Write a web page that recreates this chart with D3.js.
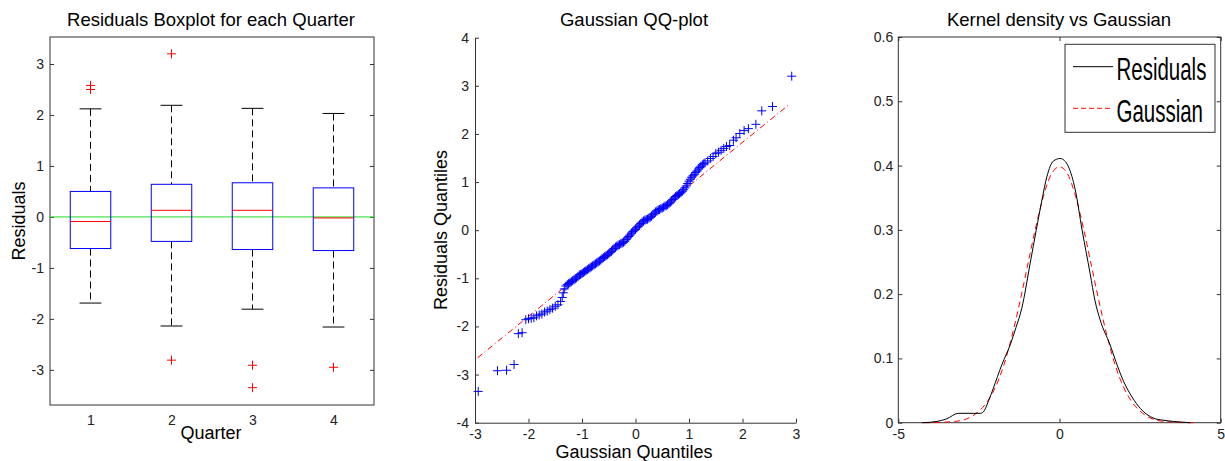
<!DOCTYPE html>
<html lang="en">
    <head>
        <meta charset="utf-8">
        <title>Residual diagnostics</title>
        <script src="https://d3js.org/d3.v7.min.js"></script>
        <style type="text/css">
            body { margin: 0; background: #fff; }
            text { font-family: "Liberation Sans", Arial, sans-serif; fill: #000; }
            .tick text { font-size: 14px; fill: #222; }
            .domain { stroke: #333; }
            .tick line { stroke: #333; }
        </style>
    </head>
    <body>
        <script>
            // ---- data ----
            var quarters = [1, 2, 3, 4];
            var boxQ1 = [-0.62, -0.48, -0.64, -0.66];
            var boxMedian = [-0.09, 0.13, 0.13, -0.02];
            var boxQ3 = [0.50, 0.64, 0.67, 0.57];
            var whiskerLow = [-1.69, -2.14, -1.81, -2.16];
            var whiskerHigh = [2.12, 2.19, 2.13, 2.03];
            var outlierQuarter = [1, 1, 2, 2, 3, 3, 4];
            var outlierValue = [2.50, 2.58, 3.20, -2.81, -2.91, -3.35, -2.95];

            // QQ points: theoretical (Gaussian) quantile, residual quantile
            var qqX = [-2.94, -2.58, -2.41, -2.27, -2.19, -2.12, -2.05, -2.00, -1.95, -1.90, -1.85, -1.80,
                -1.75, -1.70, -1.65, -1.60, -1.55, -1.50, -1.45, -1.40, -1.37, -1.35, -1.33,
                -1.300, -1.275, -1.250, -1.225, -1.200, -1.175, -1.150, -1.125, -1.100, -1.075, -1.050, -1.025,
                -1.000, -0.975, -0.950, -0.925, -0.900, -0.875, -0.850, -0.825, -0.800, -0.775, -0.750, -0.725,
                -0.700, -0.675, -0.650, -0.625, -0.600, -0.575, -0.550, -0.525, -0.500, -0.475, -0.450, -0.425,
                -0.400, -0.375, -0.350, -0.325, -0.300, -0.275, -0.250, -0.225, -0.200, -0.175, -0.150, -0.125,
                -0.100, -0.075, -0.050, -0.025, 0.000, 0.025, 0.050, 0.075, 0.100, 0.125, 0.150, 0.175,
                0.200, 0.225, 0.250, 0.275, 0.300, 0.325, 0.350, 0.375, 0.400, 0.425, 0.450, 0.475,
                0.500, 0.525, 0.550, 0.575, 0.600, 0.625, 0.650, 0.675, 0.700, 0.725, 0.750, 0.775,
                0.800, 0.825, 0.850, 0.875, 0.900, 0.925, 0.950, 0.975, 1.000, 1.025, 1.050, 1.075,
                1.100, 1.125, 1.150, 1.175, 1.200, 1.225, 1.250, 1.275, 1.300,
                1.35, 1.40, 1.45, 1.50, 1.55, 1.60, 1.65, 1.70, 1.76, 1.83, 1.88, 1.95, 2.03, 2.11,
                2.25, 2.36, 2.56, 2.92];
            var qqY = [-3.35, -2.92, -2.91, -2.79, -2.15, -2.13, -1.86, -1.84, -1.83, -1.82, -1.78, -1.76,
                -1.74, -1.70, -1.68, -1.65, -1.62, -1.58, -1.55, -1.48, -1.40, -1.30, -1.22,
                -1.16, -1.13, -1.11, -1.09, -1.07, -1.05, -1.03, -1.01, -0.99, -0.96, -0.93, -0.92,
                -0.90, -0.88, -0.86, -0.84, -0.82, -0.80, -0.78, -0.76, -0.74, -0.72, -0.70, -0.68,
                -0.66, -0.64, -0.62, -0.59, -0.57, -0.55, -0.53, -0.51, -0.49, -0.46, -0.44, -0.41,
                -0.38, -0.35, -0.33, -0.31, -0.30, -0.28, -0.27, -0.25, -0.23, -0.19, -0.16, -0.13,
                -0.10, -0.06, -0.03, 0.00, 0.02, 0.05, 0.08, 0.11, 0.14, 0.17, 0.19, 0.21,
                0.22, 0.23, 0.25, 0.27, 0.29, 0.32, 0.35, 0.38, 0.40, 0.42, 0.43, 0.45,
                0.46, 0.48, 0.50, 0.51, 0.53, 0.55, 0.58, 0.61, 0.64, 0.67, 0.70, 0.72,
                0.74, 0.76, 0.78, 0.81, 0.84, 0.88, 0.92, 0.97, 1.02, 1.06, 1.10, 1.13,
                1.16, 1.20, 1.23, 1.27, 1.30, 1.33, 1.36, 1.38, 1.40,
                1.44, 1.49, 1.53, 1.59, 1.62, 1.66, 1.70, 1.74, 1.76, 1.87, 1.92, 2.01, 2.07, 2.11,
                2.20, 2.48, 2.57, 3.20];
            var qqLineX = [-2.95, 2.89];
            var qqLineY = [-2.65, 2.63];

            var kdeX = [-4.27, -3.80, -3.50, -3.14, -2.46, -2.36, -2.20, -2.05, -1.79, -1.53, -1.35, -1.17,
                -0.91, -0.72, -0.55, -0.39, -0.19, 0.02, 0.15, 0.28, 0.49, 0.70, 0.95, 1.10, 1.26, 1.57,
                1.75, 1.99, 2.25, 2.51, 2.92, 3.20, 3.54, 4.06];
            var kdeY = [0.000, 0.002, 0.006, 0.0146, 0.0146, 0.017, 0.034, 0.054, 0.090, 0.121, 0.148, 0.178,
                0.248, 0.300, 0.345, 0.383, 0.407, 0.411, 0.408, 0.398, 0.362, 0.300, 0.232, 0.190, 0.160,
                0.121, 0.095, 0.064, 0.040, 0.022, 0.007, 0.004, 0.002, 0.000];
            var gaussX = [-4.2, -4.0, -3.75, -3.5, -3.25, -3.0, -2.75, -2.5, -2.25, -2.0, -1.75, -1.5, -1.25,
                -1.0, -0.75, -0.5, -0.25, 0.0, 0.25, 0.5, 0.75, 1.0, 1.25, 1.5, 1.75, 2.0, 2.25, 2.5, 2.75,
                3.0, 3.25, 3.5, 3.75, 4.0, 4.2];
            var gaussY = [0.000, 0.0001, 0.0004, 0.001, 0.002, 0.004, 0.009, 0.018, 0.032, 0.054, 0.086, 0.130,
                0.183, 0.242, 0.301, 0.352, 0.387, 0.398, 0.387, 0.352, 0.301, 0.242, 0.183, 0.130, 0.086,
                0.054, 0.032, 0.018, 0.009, 0.004, 0.002, 0.001, 0.0004, 0.0001, 0.000];

            var legendLabels = ["Residuals", "Gaussian"];

            // ---- layout ----
            var outerWidth = 1225;
            var outerHeight = 461;

            var svg = d3.select("body")
                        .append("svg")
                        .attr("width", outerWidth)
                        .attr("height", outerHeight);

            var plus = "M-4.5,0H4.5M0,-4.5V4.5";
            var plain = function (d) { return String(d); };   // keeps the ascii hyphen
            var oneDec = function (d) { return d === 0 ? "0" : d.toFixed(1); };

            function title(x, txt) {
                svg.append("text").attr("x", x).attr("y", 26)
                    .attr("text-anchor", "middle").style("font-size", "18.5px").text(txt);
            }
            function ylabel(x, y, txt) {
                svg.append("text").attr("transform", "translate(" + x + "," + y + ") rotate(-90)")
                    .attr("text-anchor", "middle").style("font-size", "18px").text(txt);
            }
            function xlabel(x, y, txt) {
                svg.append("text").attr("x", x).attr("y", y)
                    .attr("text-anchor", "middle").style("font-size", "18px").text(txt);
            }

            // ---- panel 1: boxplot ----
            var x1 = d3.scaleLinear().domain([0.5, 4.5]).range([50, 374]);
            var y1 = d3.scaleLinear().domain([-3.69, 3.53]).range([405, 37]);
            var g1 = svg.append("g");

            g1.append("rect").attr("x", 50).attr("y", 37).attr("width", 324).attr("height", 368)
                .attr("fill", "none").attr("stroke", "#333");
            g1.append("g").attr("transform", "translate(50,0)")
                .call(d3.axisLeft(y1).tickValues([-3, -2, -1, 0, 1, 2, 3]).tickSize(-4).tickPadding(6).tickFormat(plain))
                .call(function (s) { s.select(".domain").remove(); });
            g1.append("g").attr("transform", "translate(374,0)")
                .call(d3.axisRight(y1).tickValues([-3, -2, -1, 0, 1, 2, 3]).tickSize(-4).tickFormat(""))
                .call(function (s) { s.select(".domain").remove(); });
            g1.append("g").attr("transform", "translate(0,405)")
                .call(d3.axisBottom(x1).tickValues(quarters).tickSize(0).tickPadding(10).tickFormat(plain))
                .call(function (s) { s.select(".domain").remove(); });

            g1.append("line").attr("x1", 50).attr("x2", 374).attr("y1", y1(0)).attr("y2", y1(0))
                .attr("stroke", "#22dd22").attr("stroke-width", 1);

            quarters.forEach(function (q, i) {
                var cx = x1(q), hw = x1(0.75) - x1(0.5), cw = x1(0.635) - x1(0.5);
                g1.append("line").attr("x1", cx).attr("x2", cx).attr("y1", y1(whiskerHigh[i])).attr("y2", y1(boxQ3[i]))
                    .attr("stroke", "#000").attr("stroke-dasharray", "7,4");
                g1.append("line").attr("x1", cx).attr("x2", cx).attr("y1", y1(boxQ1[i])).attr("y2", y1(whiskerLow[i]))
                    .attr("stroke", "#000").attr("stroke-dasharray", "7,4");
                [whiskerHigh[i], whiskerLow[i]].forEach(function (v) {
                    g1.append("line").attr("x1", cx - cw).attr("x2", cx + cw).attr("y1", y1(v)).attr("y2", y1(v))
                        .attr("stroke", "#000");
                });
                g1.append("rect").attr("x", cx - hw).attr("y", y1(boxQ3[i]))
                    .attr("width", 2 * hw).attr("height", y1(boxQ1[i]) - y1(boxQ3[i]))
                    .attr("fill", "none").attr("stroke", "#0000ff");
                g1.append("line").attr("x1", cx - hw).attr("x2", cx + hw)
                    .attr("y1", y1(boxMedian[i])).attr("y2", y1(boxMedian[i])).attr("stroke", "#ff0000");
            });
            g1.selectAll("path.out").data(outlierValue).enter().append("path")
                .attr("class", "out")
                .attr("d", plus)
                .attr("transform", function (d, i) { return "translate(" + x1(outlierQuarter[i]) + "," + y1(d) + ")"; })
                .attr("stroke", "#ff0000").attr("fill", "none");

            title(211, "Residuals Boxplot for each Quarter");
            ylabel(25, 221, "Residuals");
            xlabel(211, 439, "Quarter");

            // ---- panel 2: QQ plot ----
            var x2 = d3.scaleLinear().domain([-3, 3]).range([475, 796]);
            var y2 = d3.scaleLinear().domain([-4, 4]).range([422.7, 37.7]);
            var g2 = svg.append("g");

            g2.append("g").attr("transform", "translate(475,0)")
                .call(d3.axisLeft(y2).ticks(8).tickSize(-4).tickSizeOuter(0).tickPadding(6).tickFormat(plain));
            g2.append("g").attr("transform", "translate(0,422.7)")
                .call(d3.axisBottom(x2).ticks(6).tickSize(-4).tickSizeOuter(0).tickPadding(6).tickFormat(plain));

            g2.append("line")
                .attr("x1", x2(qqLineX[0])).attr("y1", y2(qqLineY[0]))
                .attr("x2", x2(qqLineX[1])).attr("y2", y2(qqLineY[1]))
                .attr("stroke", "#ff0000").attr("stroke-dasharray", "6,3,1,3");

            g2.selectAll("path.qq").data(qqY).enter().append("path")
                .attr("class", "qq")
                .attr("d", plus)
                .attr("transform", function (d, i) { return "translate(" + x2(qqX[i]) + "," + y2(d) + ")"; })
                .attr("stroke", "#0000ff").attr("fill", "none");

            title(634, "Gaussian QQ-plot");
            ylabel(447, 230, "Residuals Quantiles");
            xlabel(634, 458, "Gaussian Quantiles");

            // ---- panel 3: kernel density ----
            var x3 = d3.scaleLinear().domain([-5, 5]).range([898.3, 1220.7]);
            var y3 = d3.scaleLinear().domain([0, 0.6]).range([422.7, 37]);
            var g3 = svg.append("g");

            g3.append("rect").attr("x", 898.3).attr("y", 37).attr("width", 322.4).attr("height", 385.7)
                .attr("fill", "none").attr("stroke", "#333");
            g3.append("g").attr("transform", "translate(898.3,0)")
                .call(d3.axisLeft(y3).ticks(6).tickSize(-4).tickPadding(5).tickFormat(oneDec))
                .call(function (s) { s.select(".domain").remove(); });
            g3.append("g").attr("transform", "translate(1220.7,0)")
                .call(d3.axisRight(y3).ticks(6).tickSize(-4).tickFormat(""))
                .call(function (s) { s.select(".domain").remove(); });
            g3.append("g").attr("transform", "translate(0,422.7)")
                .call(d3.axisBottom(x3).tickValues([-5, 0, 5]).tickSize(-4).tickPadding(6).tickFormat(plain))
                .call(function (s) { s.select(".domain").remove(); });
            g3.append("g").attr("transform", "translate(0,37)")
                .call(d3.axisTop(x3).tickValues([-5, 0, 5]).tickSize(-4).tickFormat(""))
                .call(function (s) { s.select(".domain").remove(); });

            var line3 = d3.line()
                .x(function (d) { return x3(d[0]); })
                .y(function (d) { return y3(d[1]); })
                .curve(d3.curveMonotoneX);

            g3.append("path").datum(d3.zip(gaussX, gaussY)).attr("d", line3)
                .attr("fill", "none").attr("stroke", "#ff0000").attr("stroke-dasharray", "6,4");
            g3.append("path").datum(d3.zip(kdeX, kdeY)).attr("d", line3)
                .attr("fill", "none").attr("stroke", "#000");

            // legend
            var lg = g3.append("g");
            lg.append("rect").attr("x", 1065).attr("y", 44.3).attr("width", 150).attr("height", 88)
                .attr("fill", "#fff").attr("stroke", "#333");
            lg.append("line").attr("x1", 1073).attr("x2", 1113).attr("y1", 66.7).attr("y2", 66.7)
                .attr("stroke", "#000");
            lg.append("line").attr("x1", 1073).attr("x2", 1113).attr("y1", 108.3).attr("y2", 108.3)
                .attr("stroke", "#ff0000").attr("stroke-dasharray", "5,3");
            lg.selectAll("text.leg").data(legendLabels).enter().append("text")
                .attr("class", "leg")
                .attr("transform", function (d, i) { return "translate(1116.5," + (i === 0 ? 80 : 121.7) + ") scale(0.64,1)"; })
                .style("font-size", "32px")
                .text(function (d) { return d; });

            title(1059, "Kernel density vs Gaussian");
        </script>
    </body>
</html>
